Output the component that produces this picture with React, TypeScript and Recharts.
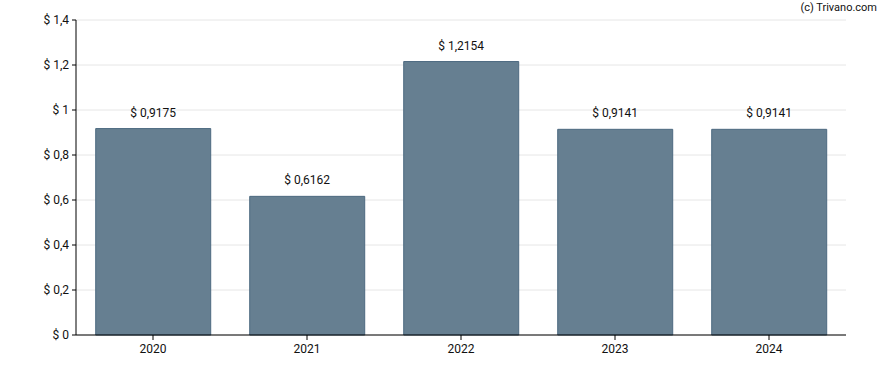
import React from 'react';
import { BarChart, Bar, XAxis, YAxis, CartesianGrid, LabelList } from 'recharts';

const years = ['2020', '2021', '2022', '2023', '2024'];
const dividends = [0.9175, 0.6162, 1.2154, 0.9141, 0.9141];
const yTicks = [0, 0.2, 0.4, 0.6, 0.8, 1, 1.2, 1.4];

const data = years.map((year, i) => ({ year, value: dividends[i] }));

const fmtTick = (v: number) => '$ ' + String(Number(v.toFixed(1))).replace('.', ',');
const fmtLabel = (v: any) => '$ ' + String(v).replace('.', ',');

export default function App() {
  return (
    <div style={{ position: 'absolute', left: 0, top: 0, width: 888, height: 370, fontFamily: 'Roboto, sans-serif', background: '#fff' }}>
      <div style={{ position: 'absolute', right: 11, top: 1, fontSize: 11, color: '#111' }}>(c) Trivano.com</div>
      <BarChart
        width={888}
        height={370}
        data={data}
        margin={{ top: 20, right: 42, left: 0, bottom: 0 }}
        barCategoryGap="12.8%"
      >
        <CartesianGrid vertical={false} stroke="#e6e6e6" />
        <XAxis
          dataKey="year"
          height={35}
          stroke="#000"
          tickSize={5}
          tickMargin={4}
          tick={{ fill: '#111', fontSize: 12 }}
        />
        <YAxis
          width={76}
          domain={[0, 1.4]}
          ticks={yTicks}
          tickFormatter={fmtTick}
          stroke="#000"
          tickSize={4}
          tickMargin={3}
          tick={{ fill: '#111', fontSize: 12 }}
        />
        <Bar dataKey="value" fill="#667f91" stroke="#4d6a80" strokeWidth={1} isAnimationActive={false}>
          <LabelList dataKey="value" position="top" offset={12} formatter={fmtLabel} fill="#111" fontSize={12} />
        </Bar>
      </BarChart>
    </div>
  );
}
